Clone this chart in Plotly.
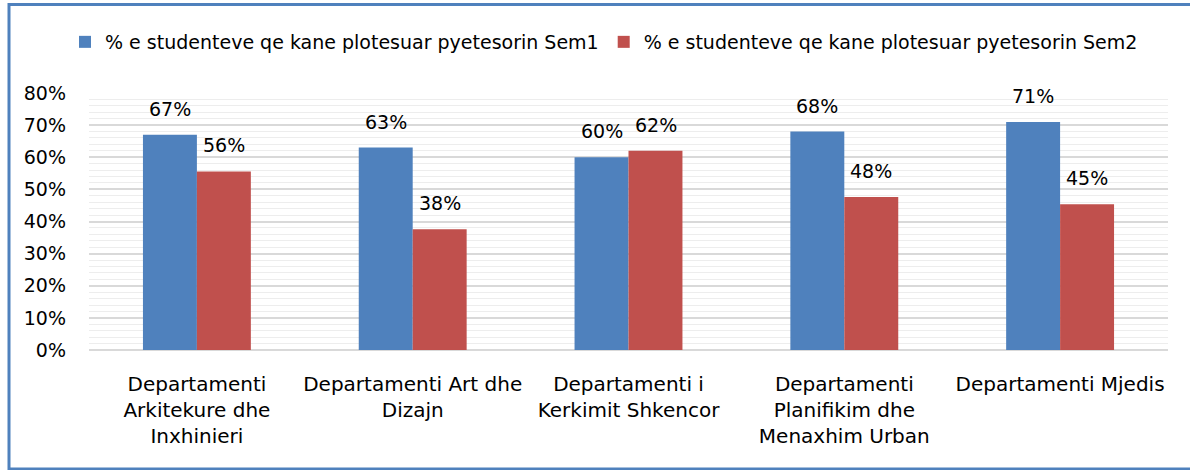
import plotly.graph_objects as go

categories = [
    "Departamenti<br>Arkitekure dhe<br>Inxhinieri",
    "Departamenti Art dhe<br>Dizajn",
    "Departamenti i<br>Kerkimit Shkencor",
    "Departamenti<br>Planifikim dhe<br>Menaxhim Urban",
    "Departamenti Mjedis",
]
series_names = [
    "% e studenteve qe kane plotesuar pyetesorin Sem1",
    "% e studenteve qe kane plotesuar pyetesorin Sem2",
]
sem1 = [0.67, 0.63, 0.60, 0.68, 0.71]
sem2 = [0.556, 0.376, 0.62, 0.476, 0.454]
colors = ["#4F81BD", "#C0504D"]

FONT = "DejaVu Sans"
W, H = 1190, 470
ML, MR, MT, MB = 89, 22, 93, 120
BAR_HALF = 27  # half bar width in px, for label placement

fig = go.Figure()
for name, vals, col in zip(series_names, [sem1, sem2], colors):
    fig.add_trace(go.Bar(
        x=categories, y=vals, name=name,
        marker=dict(color=col, line=dict(width=0)),
    ))

annotations = []
for vals, shift in [(sem1, -BAR_HALF), (sem2, BAR_HALF)]:
    for c, v in zip(categories, vals):
        annotations.append(dict(
            x=c, y=v, xref="x", yref="y", text=f"{v:.0%}",
            showarrow=False, xshift=shift, yshift=26,
            xanchor="center", yanchor="middle",
            font=dict(family=FONT, size=19, color="#000000"),
        ))

pw = W - ML - MR
ph = H - MT - MB
def px_to_paper_x(px):
    return (px - ML) / pw
def px_to_paper_y(py):
    return (H - MB - py) / ph

fig.update_layout(
    width=W, height=H,
    margin=dict(l=ML, r=MR, t=MT, b=MB),
    paper_bgcolor="white", plot_bgcolor="white",
    barmode="group", bargap=0.5, bargroupgap=0,
    font=dict(family=FONT, size=19, color="#000000"),
    showlegend=True,
    legend=dict(
        orientation="h", x=px_to_paper_x(604), xanchor="center",
        y=px_to_paper_y(42), yanchor="middle",
        font=dict(family=FONT, size=19, color="#000000"),
        itemwidth=30, tracegroupgap=0,
    ),
    xaxis=dict(
        showgrid=False, showline=False, ticks="",
        tickfont=dict(family=FONT, size=20, color="#000000"),
        tickangle=0, ticklabelstandoff=20,
    ),
    yaxis=dict(
        range=[0, 0.8], dtick=0.1, tickformat=".0%",
        showgrid=True, gridcolor="#D9D9D9", gridwidth=2,
        zeroline=True, zerolinecolor="#D9D9D9", zerolinewidth=2,
        showline=False, ticks="",
        tickfont=dict(family=FONT, size=19, color="#000000"),
        ticklabelstandoff=22,
        minor=dict(dtick=0.02, showgrid=True, gridcolor="#EDEDED", gridwidth=1),
    ),
    annotations=annotations,
    shapes=[dict(
        type="rect", xref="paper", yref="paper",
        x0=px_to_paper_x(9), x1=px_to_paper_x(W + 10),
        y0=px_to_paper_y(469), y1=px_to_paper_y(4.5),
        line=dict(color="#4F81BD", width=3), fillcolor="rgba(0,0,0,0)",
        layer="below",
    )],
)

fig.write_html(
    "out.html",
    config={"displayModeBar": False},
    post_script="document.body.style.margin='0';document.body.style.overflow='hidden';",
)
